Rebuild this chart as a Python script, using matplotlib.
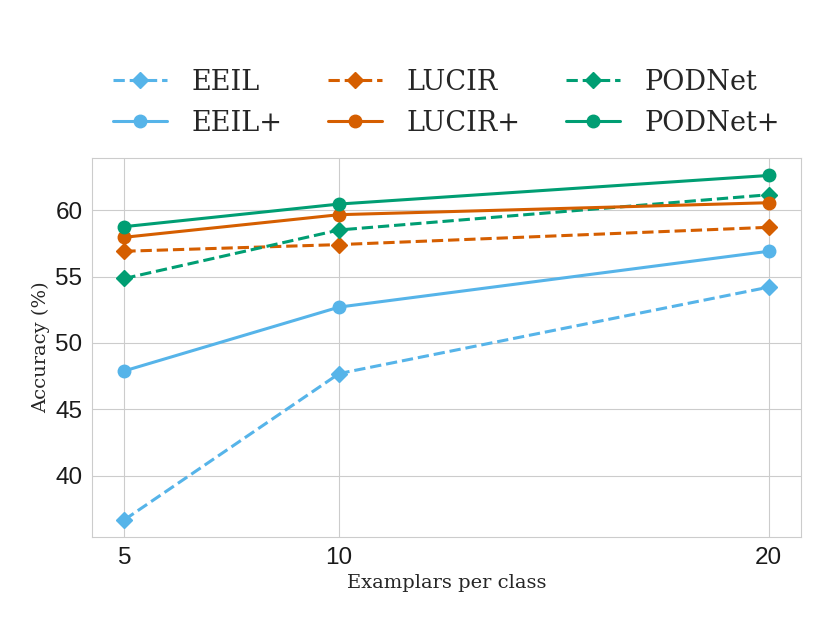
import numpy as np
import matplotlib
matplotlib.use('Agg')
import matplotlib.pyplot as plt
import seaborn as sns

# Data
exemplars = [5, 10, 20]
eeil = [36.7, 47.7, 54.2]
eeil_plus = [47.9, 52.7, 56.9]
lucir = [56.9, 57.4, 58.7]
lucir_plus = [57.95, 59.65, 60.55]
podnet = [54.85, 58.5, 61.15]
podnet_plus = [58.75, 60.45, 62.6]

blue = '#56B4E9'
orange = '#D55E00'
green = '#009E73'

sns.set_style('whitegrid')

fig, ax = plt.subplots(figsize=(8.3, 6.23), dpi=100)

ax.plot(exemplars, eeil, '--', marker='D', color=blue, lw=2.2, ms=8, label='EEIL')
ax.plot(exemplars, lucir, '--', marker='D', color=orange, lw=2.2, ms=8, label='LUCIR')
ax.plot(exemplars, podnet, '--', marker='D', color=green, lw=2.2, ms=8, label='PODNet')
ax.plot(exemplars, eeil_plus, '-', marker='o', color=blue, lw=2.2, ms=9, label='EEIL+')
ax.plot(exemplars, lucir_plus, '-', marker='o', color=orange, lw=2.2, ms=9, label='LUCIR+')
ax.plot(exemplars, podnet_plus, '-', marker='o', color=green, lw=2.2, ms=9, label='PODNet+')

ax.set_xticks(exemplars)
for lab in ax.get_xticklabels() + ax.get_yticklabels():
    lab.set_family('Liberation Sans')
    lab.set_fontsize(17.5)
    lab.set_color('#1a1a1a')
ax.set_xlabel('Examplars per class', family='DejaVu Serif', fontsize=14)
ax.set_ylabel('Accuracy (%)', family='DejaVu Serif', fontsize=14)

# legend order: dashed row on top, solid row below
handles, labels = ax.get_legend_handles_labels()
order = [0, 3, 1, 4, 2, 5]
ax.legend([handles[i] for i in order], [labels[i] for i in order],
          ncol=3, loc='lower center', bbox_to_anchor=(0.5, 0.993),
          frameon=False, prop={'family': 'DejaVu Serif', 'size': 19.5},
          handlelength=2.0, handletextpad=0.9, columnspacing=1.67,
          labelspacing=0.5)

fig.subplots_adjust(left=0.111, right=0.965, top=0.746, bottom=0.138)
fig.savefig('out.png', dpi=100)
